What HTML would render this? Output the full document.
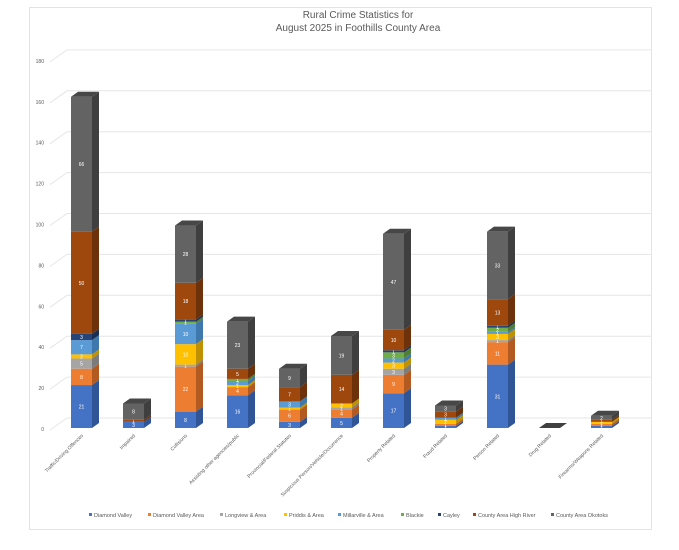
<!DOCTYPE html>
<html><head><meta charset="utf-8"><style>
body{margin:0;background:#fff;}
svg{display:block;font-family:"Liberation Sans",sans-serif;}
</style></head><body>
<svg id="c" width="679" height="550" viewBox="0 0 679 550">
<rect x="29.5" y="7.5" width="622" height="522" fill="#fff" stroke="#e3e3e3"/>
<text x="358" y="18" text-anchor="middle" font-size="10" fill="#595959">Rural Crime Statistics for</text>
<text x="358" y="31" text-anchor="middle" font-size="10" fill="#595959">August 2025 in Foothills County Area</text>
<g id="grid"></g><g id="bars"></g><g id="cats"></g><g id="legend"></g>
</svg>
<script>
const categories=["Traffic/Driving Offences","Impaired","Collisions","Assisting other agencies/public","Provincial/Federal Statutes","Suspicious Person/Vehicle/Occurrence","Property Related","Fraud Related","Person Related","Drug Related","Firearms/Weapons Related"];
const seriesNames=["Diamond Valley","Diamond Valley Area","Longview & Area","Priddis & Area","Millarville & Area","Blackie","Cayley","County Area High River","County Area Okotoks"];
const diamondValley=[21,3,8,16,3,5,17,1,31,0,1];
const diamondValleyArea=[8,0,22,4,6,4,9,1,11,0,1];
const longview=[5,0,1,0,0,1,3,0,1,0,0];
const priddis=[2,0,10,1,1,2,3,2,3,0,1];
const millarville=[7,0,10,2,3,0,2,1,1,0,0];
const blackie=[0,0,1,1,0,0,3,0,2,0,0];
const cayley=[3,0,1,0,0,0,1,0,1,0,0];
const highRiver=[50,1,18,5,7,14,10,3,13,0,1];
const okotoks=[66,8,28,23,9,19,47,3,33,0,2];
const yTicks=[0,20,40,60,80,100,120,140,160,180];
const series=[diamondValley,diamondValleyArea,longview,priddis,millarville,blackie,cayley,highRiver,okotoks];
const colors=["#4472c4","#ed7d31","#a5a5a5","#ffc000","#5b9bd5","#70ad47","#264478","#9e480e","#636363"];
const sides=["#2f5597","#b25a1f","#7c7c7c","#bf9000","#3f78ad","#507e33","#1a2f55","#6e320a","#3f3f3f"];
const NS="http://www.w3.org/2000/svg";
function mk(t,a,p){const e=document.createElementNS(NS,t);for(const k in a)e.setAttribute(k,a[k]);p.appendChild(e);return e;}
const y0=428,ppu=2.045,dx=7,dy=5;
function yS(v){return y0-v*ppu;}
function xS(i){return 71+i*52;}
const bw=21;
const grid=document.getElementById('grid');
yTicks.forEach(t=>{
  const y=yS(t);
  const l=mk('path',{d:`M50 ${y+2} L67 ${y-10} L652 ${y-10}`,fill:'none',stroke:'#e6e6e6','stroke-width':1},grid);
  
  
  const tx=mk('text',{x:44,y:y+3,'text-anchor':'end','font-size':5,fill:'#595959'},grid);
  
  
  tx.textContent=t;
});
const bars=document.getElementById('bars');
categories.forEach((c,i)=>{
  let cum=0;const x=xS(i);
  const g=mk('g',{},bars);
  
  
  series.forEach((s,k)=>{
    const v=s[i];if(!v)return;
    const yb=yS(cum),yt=yS(cum+v);cum+=v;
    const r=mk('rect',{x:x,y:yt,width:bw,height:yb-yt,fill:colors[k]},g);
    
    
    const sd=mk('polygon',{points:`${x+bw},${yt} ${x+bw+dx},${yt-dy} ${x+bw+dx},${yb-dy} ${x+bw},${yb}`,fill:sides[k]},g);
    
    
    const lb=mk('text',{x:x+bw/2,y:(yt+yb)/2+2,'text-anchor':'middle','font-size':5,fill:'#fff'},g);
    
    
    lb.textContent=v;
  });
  let topK=8;for(let k=8;k>=0;k--){if(series[k][i]){topK=k;break;}}
  const yt=yS(cum);
  const tp=mk('polygon',{points:`${x},${yt} ${x+dx},${yt-dy} ${x+bw+dx},${yt-dy} ${x+bw},${yt}`,fill:cum?'#474747':'#404040'},g);
  
  
  const cx=x+bw/2+2,cy=436;
  const ct=mk('text',{x:cx,y:cy,'text-anchor':'end','font-size':5,fill:'#595959',transform:`rotate(-45 ${cx} ${cy})`},document.getElementById('cats'));
  
  
  ct.textContent=c;
});
const legX=[89,148,220,284,338,401,438,473,551];
const leg=document.getElementById('legend');
seriesNames.forEach((n,k)=>{
  const g=mk('g',{},leg);
  
  
  mk('rect',{x:legX[k],y:513,width:3,height:3,fill:colors[k]},g);
  const t=mk('text',{x:legX[k]+5,y:517,'font-size':5.5,fill:'#595959'},g);
  t.textContent=n;
});
</script>
</body></html>
